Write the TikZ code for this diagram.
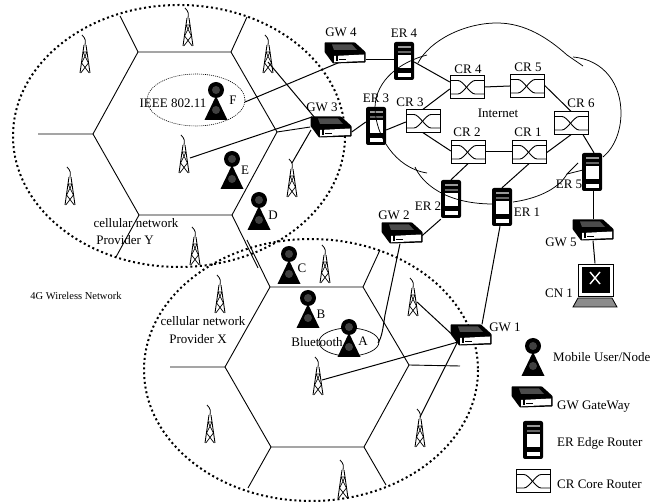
\documentclass[tikz,border=0pt]{standalone}
\usepackage{fontspec}
\setmainfont{Liberation Serif}
\tikzset{
  heavydots/.style={line width=2pt,dash pattern=on 2pt off 2.8pt},
  thindots/.style={line width=0.6pt,dash pattern=on 1pt off 1pt},
  cell/.style={line width=0.9pt},
  lnk/.style={line width=1pt},
  cloudline/.style={line width=0.75pt},
  lab/.style={inner sep=0pt,font=\fontsize{13}{13}\selectfont},
  gwbox/.style={inner sep=0pt,minimum width=41pt,minimum height=21pt},
  erbox/.style={inner sep=0pt,minimum width=20pt,minimum height=38pt},
  crbox/.style={inner sep=0pt,minimum width=34pt,minimum height=23pt},
  towerbox/.style={inner sep=0pt,minimum width=12pt,minimum height=38pt},
  userbox/.style={inner sep=0pt,minimum width=23pt,minimum height=38pt},
  gwsym/.pic={
    \fill[black,rounded corners=0.6pt] (-20.5,-10.5)--(10,-10.5)--(20.5,-1)--(20.5,9.5)--(-12,10.5)--(-20.5,-1)--cycle;
    \fill[black!70] (-13,-8.5)--(7,-8.5)--(12,-3)--(-11,-3)--cycle;
    \fill[white] (-11,3)--(19,1.5)--(19,8)--(-11,9.3)--cycle;
    \draw[black,line width=0.8pt] (-6,6.5)--(1,6.5);
    \fill[black] (-9,1)rectangle(-7,8);
  },
  ersym/.pic={
    \fill[black,rounded corners=2pt] (-10,-19) rectangle (10,19);
    \fill[black!40] (-6,-15) rectangle (7,-13);
    \fill[white] (-6,-6) rectangle (7,7);
    \fill[white] (-6,12) rectangle (7,16);
    \fill[black!60] (-6,-10) rectangle (7,-8);
  },
  crsym/.pic={
    \draw[line width=1pt,fill=white] (-17,-11.5) rectangle (17,11.5);
    \draw[line width=0.9pt] (-17,-6.5)--(-9,-6.5) .. controls (-4,-6.5) and (3,7) .. (8,7)--(17,7);
    \draw[line width=0.9pt] (-17,7)--(-9,7) .. controls (-4,7) and (3,-6.5) .. (8,-6.5)--(17,-6.5);
  },
  towersym/.pic={
    \draw[line width=0.8pt] (-3,-19) .. controls (1,-15) and (0.5,-13) .. (0,-9);
    \draw[line width=0.9pt] (-1,-9) -- (-5,19) (1,-9) -- (5,19);
    \draw[line width=0.7pt] (-2,-2)--(3.4,9)--(-4.2,19) (2,-2)--(-3.4,9)--(4.2,19) (-2,-2)--(2,-2);
  },
  usersym/.pic={
    \fill[black] (0,-11) circle (8pt);
    \fill[black!75] (0,-11) circle (4pt);
    \fill[black] (0,-5)--(-11.5,19)--(11.5,19)--cycle;
    \fill[black!75] (0,9) circle (4pt);
  },
}
\begin{document}
\begin{tikzpicture}[x=1pt,y=-1pt]
\useasboundingbox (0,0) rectangle (651,502);

% wireless domains
\draw[heavydots] (179,136) ellipse [x radius=166,y radius=131];
\draw[heavydots] (311,370) ellipse [x radius=167,y radius=131];
\draw[thindots] (196,100) ellipse [x radius=49,y radius=26];
\draw[line width=0.7pt] (349,342) ellipse [x radius=30,y radius=14];

% cell hexagons
\coordinate (ya) at (138,52); \coordinate (yb) at (231,52); \coordinate (yc) at (277,132);
\coordinate (yd) at (232,215); \coordinate (ye) at (139,215); \coordinate (yf) at (93,134);
\coordinate (xa) at (270,287); \coordinate (xb) at (363,287); \coordinate (xc) at (409,365);
\coordinate (xd) at (364,447); \coordinate (xe) at (271,447); \coordinate (xf) at (225,367);
\draw[cell] (ya)--(yb)--(yc)--(yd)--(ye)--(yf)--cycle;
\draw[cell] (xa)--(xb)--(xc)--(xd)--(xe)--(xf)--cycle;
\coordinate (ysa) at (120,16); \coordinate (ysb) at (247,17); \coordinate (ysd) at (258,268);
\coordinate (yse) at (116,257); \coordinate (ysf) at (38,134);
\coordinate (xsa) at (247,240); \coordinate (xsb) at (380,250); \coordinate (xsc) at (460,366);
\coordinate (xsd) at (386,485); \coordinate (xse) at (248,488); \coordinate (xsf) at (170,367);
\draw[cell] (ya)--(ysa) (yb)--(ysb) (yd)--(ysd) (ye)--(yse) (yf)--(ysf);
\draw[cell] (xa)--(xsa) (xb)--(xsb) (xc)--(xsc) (xd)--(xsd) (xe)--(xse) (xf)--(xsf);

% placement of equipment
\foreach \n/\x/\y in {gw4/345/53,gw3/331/127,gw2/402/233,gw5/593/230,gw1/471/335,gwl/532/397}
  {\node[gwbox] (\n) at (\x,\y) {};}
\foreach \n/\x/\y in {er4/404/61,er3/376/126,er2/451/199,er1/502/207,er5/592/172,erl/533/440}
  {\node[erbox] (\n) at (\x,\y) {};}
\foreach \n/\x/\y in {cr4/467/87,cr5/527/86,cr3/423/121,cr6/571/123,cr2/468/152,cr1/529/152,crl/533/481}
  {\node[crbox] (\n) at (\x,\y) {};}
\foreach \n/\x/\y in {ty1/85/54,ty2/188/27,ty3/268/54,ty4/70/186,ty5/184/154,ty6/292/178,ty7/195/246,
  tx1/325/264,tx2/220/294,tx3/413/297,tx4/318/376,tx5/210/424,tx6/420/428,tx7/343/479}
  {\node[towerbox] (\n) at (\x,\y) {};}
\foreach \n/\x/\y in {uf/216/101,ue/232/170,ud/259/211,uc/289/265,ub/308/309,ua/349/338,ul/533/357}
  {\node[userbox] (\n) at (\x,\y) {};}
\node[inner sep=0pt,minimum width=36pt,minimum height=33pt] (cn1) at (595,280) {};
\coordinate (ieee) at (245,102);
\coordinate (blue) at (378,343);

% links
\draw[lnk] (ieee)--([yshift=-7pt]gw4.center);
\draw[lnk] ([yshift=-7pt]gw4.east)--([yshift=1pt]er4.west);
\draw[lnk] ([yshift=-1pt]er4.east)--([yshift=5pt]cr4.west);
\draw[lnk] (cr4.east)--(cr5.west);
\draw[lnk] (cr3.north)--([yshift=-2pt]cr4.west);
\draw[lnk] ([yshift=-5pt]gw3.east)--([yshift=4pt]er3.west);
\draw[lnk] ([yshift=-4pt]er3.east)--([yshift=-1pt]cr3.west);
\draw[lnk] (cr3.south)--([yshift=1pt]cr2.west);
\draw[lnk] (cr2.east)--(cr1.west);
\draw[lnk] ([yshift=-1pt]cr1.east)--(cr6.south);
\draw[lnk] ([yshift=1pt]cr5.east)--(cr6.north);
\draw[lnk] ([xshift=12pt]cr6.south)--([xshift=2pt]er5.north);
\draw[lnk] (cr2.south)--(er2.north);
\draw[lnk] (cr1.south)--(er1.north);
\draw[lnk] ([xshift=1pt]er5.south)--(gw5.north);
\draw[lnk] (gw5.south)--(cn1.north);
\draw[lnk] ([xshift=-2pt]er1.south)--([xshift=11pt]gw1.north);
\draw[lnk] ([yshift=-1pt]er2.south west)--([xshift=-1pt,yshift=-3pt]gw2.east);
\draw[lnk] ([xshift=-2pt]gw2.south)--(385,315) .. controls (383,328) and (382,337) .. (blue);
\draw[lnk] ([yshift=-8pt]ty3.center)--([yshift=9pt,xshift=-16pt]gw3.center);
\draw[lnk] ([xshift=6pt,yshift=-4pt]ty5.center)--([yshift=10pt,xshift=-19pt]gw3.center);
\draw[lnk] ([yshift=15pt]ty6.center)--([xshift=-20pt,yshift=-3pt]gw3.center);
\draw[cell] (yc)--(gw3.west);
\draw[lnk] ([xshift=4pt,yshift=-5pt]tx3.center)--([xshift=-13pt,yshift=-5pt]gw1.center);
\draw[lnk] ([xshift=4pt,yshift=-4pt]tx4.center)--([xshift=-13pt,yshift=-7pt]gw1.center);
\draw[lnk] ([yshift=11pt]tx6.center)--([xshift=-14pt,yshift=-8pt]gw1.center);

% symbols
\foreach \n in {gw4,gw3,gw2,gw5,gw1,gwl} {\pic at (\n) {gwsym};}
\foreach \n in {er4,er3,er2,er1,er5,erl} {\pic at (\n) {ersym};}
\foreach \n in {cr4,cr5,cr3,cr6,cr2,cr1,crl} {\pic at (\n) {crsym};}
\foreach \n in {ty1,ty2,ty3,ty4,ty5,ty6,ty7,tx1,tx2,tx3,tx4,tx5,tx6,tx7} {\pic at (\n) {towersym};}
\foreach \n in {uf,ue,ud,uc,ub,ua,ul} {\pic at (\n) {usersym};}

% correspondent node
\fill[white,draw=black,line width=0.9pt] (578,264) rectangle (613,296);
\fill[black] (582,267) rectangle (610,293);
\draw[white,line width=1.4pt] (590,272)--(600,284) (600,272)--(590,284);
\fill[black!45,draw=black,line width=0.8pt] (578,298)--(612,298)--(617,307)--(573,307)--cycle;

% cloud
\draw[cloudline] (418,63) .. controls (430,40) and (465,23) .. (497,23) .. controls (525,23) and (548,38) .. (567,55)--(583,66);
\draw[cloudline] (573,57) .. controls (605,60) and (621,85) .. (621,113) .. controls (621,130) and (615,147) .. (603,157);
\draw[cloudline] (427,55) .. controls (400,62) and (376,80) .. (375,107) .. controls (375,135) and (395,168) .. (427,173);
\draw[cloudline] (415,167) .. controls (422,183) and (445,204) .. (493,204);
\draw[cloudline] (513,202) .. controls (535,199) and (558,190) .. (567,174)--(583,170);
\draw[cloudline] (578,163)--(567,174);

% labels
\node[lab] (lgw4) at (341,32) {GW 4};
\node[lab] (ler4) at (404,33) {ER 4};
\node[lab] (lcr4) at (468,69) {CR 4};
\node[lab] (lcr5) at (528,67) {CR 5};
\node[lab] (ler3) at (376,98) {ER 3};
\node[lab] (lcr3) at (410,102) {CR 3};
\node[lab] (lgw3) at (322,107) {GW 3};
\node[lab] (lcr6) at (581,103) {CR 6};
\node[lab] (lnet) at (498,113) {Internet};
\node[lab] (lcr2) at (467,132) {CR 2};
\node[lab] (lcr1) at (528,132) {CR 1};
\node[lab] (ler2) at (428,206) {ER 2};
\node[lab] (ler1) at (527,212) {ER 1};
\node[lab] (ler5) at (569,184) {ER 5};
\node[lab] (lgw2) at (394,215) {GW 2};
\node[lab] (lgw5) at (561,242) {GW 5};
\node[lab] (lcn1) at (559,293) {CN 1};
\node[lab] (lgw1) at (505,327) {GW 1};
\node[lab,anchor=west] (lmob) at (553,357) {Mobile User/Node};
\node[lab,anchor=west] (lgwl) at (557,407) {GW GateWay};
\node[lab,anchor=west] (lerl) at (557,443) {ER Edge Router};
\node[lab,anchor=west] (lcrl) at (557,484) {CR Core Router};
\node[lab] (lieee) at (173,103) {IEEE 802.11};
\node[lab] (lcy) at (136,223) {cellular network};
\node[lab] (lpy) at (125,240) {Provider Y};
\node[lab] (lcx) at (203,321) {cellular network};
\node[lab] (lpx) at (198,339) {Provider X};
\node[lab] (lblue) at (317,342) {Bluetooth};
\node[lab,font=\fontsize{10.5}{11}\selectfont] (l4g) at (76,296) {4G Wireless Network};
\node[lab] (lf) at (233,100) {F};
\node[lab] (le) at (245,170) {E};
\node[lab] (ld) at (273,215) {D};
\node[lab] (lc) at (302,268) {C};
\node[lab] (lb) at (321,314) {B};
\node[lab] (la) at (363,341) {A};
\end{tikzpicture}
\end{document}
